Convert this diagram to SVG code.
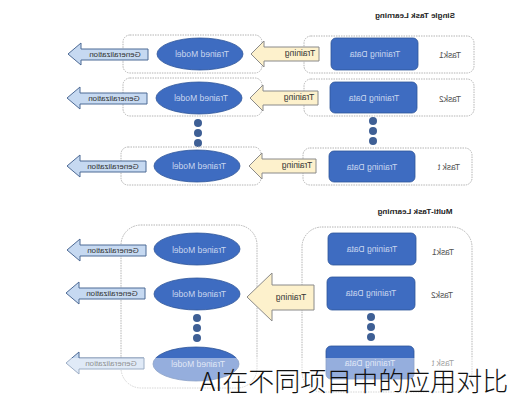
<svg xmlns="http://www.w3.org/2000/svg" width="508" height="400" viewBox="0 0 508 400">
<style>
.lbl{font-family:"Liberation Sans",Arial,sans-serif;font-size:8.5px;text-anchor:middle;dominant-baseline:central}
.title{font-family:"Liberation Sans",Arial,sans-serif;font-size:8px;font-weight:bold;fill:#222;text-anchor:middle;dominant-baseline:central}
.box{fill:#fff;stroke:#b4b4b4;stroke-width:1;stroke-dasharray:1.5 1}
.data{fill:#3e6cc1;stroke:#2f5699;stroke-width:0.8}
.model{fill:#3e6cc1;stroke:#2f5699;stroke-width:0.8}
.onblue{fill:#c9d6ef}
.dark{fill:#333}
.task{fill:#555}
.gen{fill:#c6d9f1;stroke:#4d6a95;stroke-width:1}
.train{fill:#fdf1cc;stroke:#8a8a8a;stroke-width:1}
.dot{fill:#3e5f95}
</style>
<rect width="508" height="400" fill="#fff"/>

<!-- titles -->
<text class="title" transform="translate(415,15) scale(-1,1)">Single Task Learning</text>
<text class="title" transform="translate(415,211) scale(-1,1)">Multi-Task Learning</text>

<!-- Single task rows -->
<g id="st-row1">
  <rect class="box" x="123" y="35" width="139" height="38" rx="7"/>
  <rect class="box" x="304" y="36" width="170" height="37" rx="7"/>
  <rect class="data" x="331" y="38" width="87" height="32" rx="5"/>
  <text class="lbl onblue" transform="translate(375,54) scale(-1,1)">Training Data</text>
  <text class="lbl task" transform="translate(450,55) scale(-1,1)">Task1</text>
  <ellipse class="model" cx="200" cy="54" rx="43" ry="16"/>
  <text class="lbl onblue" transform="translate(202,54) scale(-1,1)">Trained Model</text>
</g>
<g id="st-row2">
  <rect class="box" x="123" y="78" width="139" height="38" rx="7"/>
  <rect class="box" x="304" y="79" width="170" height="37" rx="7"/>
  <rect class="data" x="330" y="82" width="87" height="31" rx="5"/>
  <text class="lbl onblue" transform="translate(374,98) scale(-1,1)">Training Data</text>
  <text class="lbl task" transform="translate(450,99) scale(-1,1)">Task2</text>
  <ellipse class="model" cx="199" cy="98" rx="43" ry="16"/>
  <text class="lbl onblue" transform="translate(201,98) scale(-1,1)">Trained Model</text>
</g>
<g id="st-dots">
  <circle class="dot" cx="198" cy="123" r="4"/>
  <circle class="dot" cx="198" cy="133" r="4"/>
  <circle class="dot" cx="198" cy="143" r="4"/>
  <circle class="dot" cx="373" cy="121" r="4"/>
  <circle class="dot" cx="373" cy="131" r="4"/>
  <circle class="dot" cx="373" cy="141" r="4"/>
</g>
<g id="st-rowt">
  <rect class="box" x="121" y="147" width="140" height="38" rx="7"/>
  <rect class="box" x="303" y="148" width="169" height="37" rx="7"/>
  <rect class="data" x="329" y="151" width="86" height="31" rx="5"/>
  <text class="lbl onblue" transform="translate(372,167) scale(-1,1)">Training Data</text>
  <text class="lbl task" transform="translate(449,167) scale(-1,1)">Task t</text>
  <ellipse class="model" cx="197" cy="166" rx="43" ry="16"/>
  <text class="lbl onblue" transform="translate(199,166) scale(-1,1)">Trained Model</text>
</g>

<!-- Multi task -->
<g id="mt-left">
  <rect class="box" x="121" y="225" width="136" height="163" rx="20"/>
</g>
<g id="mt-right">
  <rect class="box" x="302" y="227" width="170" height="165" rx="20"/>
</g>
<g id="mt-task1">
  <rect class="data" x="328" y="233" width="88" height="32" rx="5"/>
  <text class="lbl onblue" transform="translate(372,249) scale(-1,1)">Training Data</text>
  <text class="lbl task" transform="translate(443,252) scale(-1,1)">Task1</text>
</g>
<g id="mt-task2">
  <rect class="data" x="327" y="277" width="88" height="33" rx="5"/>
  <text class="lbl onblue" transform="translate(371,293) scale(-1,1)">Training Data</text>
  <text class="lbl task" transform="translate(442,295) scale(-1,1)">Task2</text>
</g>
<g id="mt-taskt">
  <rect class="data" x="326" y="346" width="88" height="33" rx="5"/>
  <text class="lbl onblue" transform="translate(370,363) scale(-1,1)">Training Data</text>
  <text class="lbl task" transform="translate(443,363) scale(-1,1)">Task t</text>
</g>
<g id="mt-model1">
  <ellipse class="model" cx="197" cy="249" rx="43" ry="16"/>
  <text class="lbl onblue" transform="translate(199,250) scale(-1,1)">Trained Model</text>
</g>
<g id="mt-model2">
  <ellipse class="model" cx="197" cy="294" rx="43" ry="16"/>
  <text class="lbl onblue" transform="translate(199,294) scale(-1,1)">Trained Model</text>
</g>
<g id="mt-modelt">
  <ellipse class="model" cx="196" cy="364" rx="43" ry="17"/>
  <text class="lbl onblue" transform="translate(198,364) scale(-1,1)">Trained Model</text>
</g>
<g id="mt-dots">
  <circle class="dot" cx="197" cy="318" r="4"/>
  <circle class="dot" cx="197" cy="328" r="4"/>
  <circle class="dot" cx="197" cy="338" r="4"/>
  <circle class="dot" cx="371" cy="317" r="4"/>
  <circle class="dot" cx="371" cy="327" r="4"/>
  <circle class="dot" cx="371" cy="337" r="4"/>
</g>

<!-- connectors -->
<g id="connectors">
  <!-- training arrows single -->
  <path class="train" d="M319,47 L264,47 L264,41 L251,54 L264,67 L264,61 L319,61 Z"/>
  <text class="lbl dark" transform="translate(300,53) scale(-1,1)">Training</text>
  <path class="train" d="M318,91 L263,91 L263,85 L250,98 L263,111 L263,105 L318,105 Z"/>
  <text class="lbl dark" transform="translate(299,97) scale(-1,1)">Training</text>
  <path class="train" d="M316,159 L262,159 L262,153 L249,166 L262,179 L262,173 L316,173 Z"/>
  <text class="lbl dark" transform="translate(297,165) scale(-1,1)">Training</text>
  <!-- generalization arrows single -->
  <path class="gen" d="M148,49 L81,49 L81,43 L68,54 L81,65 L81,60 L148,60 Z"/>
  <text class="lbl dark" transform="translate(115,54) scale(-1,1)" style="font-size:8px">Generalization</text>
  <path class="gen" d="M147,93 L80,93 L80,87 L67,98 L80,109 L80,104 L147,104 Z"/>
  <text class="lbl dark" transform="translate(114,98) scale(-1,1)" style="font-size:8px">Generalization</text>
  <path class="gen" d="M146,161 L80,161 L80,155 L67,166 L80,177 L80,172 L146,172 Z"/>
  <text class="lbl dark" transform="translate(113,166) scale(-1,1)" style="font-size:8px">Generalization</text>
  <!-- multi -->
  <path class="train" d="M314,285 L272,285 L272,273 L247,297 L272,321 L272,310 L314,310 Z"/>
  <text class="lbl dark" transform="translate(291,297) scale(-1,1)">Training</text>
  <path class="gen" d="M146,245 L80,245 L80,239 L67,250 L80,261 L80,256 L146,256 Z"/>
  <text class="lbl dark" transform="translate(113,250) scale(-1,1)" style="font-size:8px">Generalization</text>
  <path class="gen" d="M145,288 L79,288 L79,282 L66,293 L79,304 L79,299 L145,299 Z"/>
  <text class="lbl dark" transform="translate(112,293) scale(-1,1)" style="font-size:8px">Generalization</text>
  <path class="gen" d="M144,358 L79,358 L79,352 L66,363 L79,374 L79,369 L144,369 Z"/>
  <text class="lbl dark" transform="translate(111,363) scale(-1,1)" style="font-size:8px">Generalization</text>
</g>

<!-- watermark band -->
<rect x="0" y="358" width="508" height="42" fill="#fff" fill-opacity="0.45"/>
<text x="200" y="391" font-family="'Noto Sans CJK SC','Noto Sans',sans-serif" font-size="26" font-weight="300" fill="#111">AI在不同项目中的应用对比</text>
</svg>
